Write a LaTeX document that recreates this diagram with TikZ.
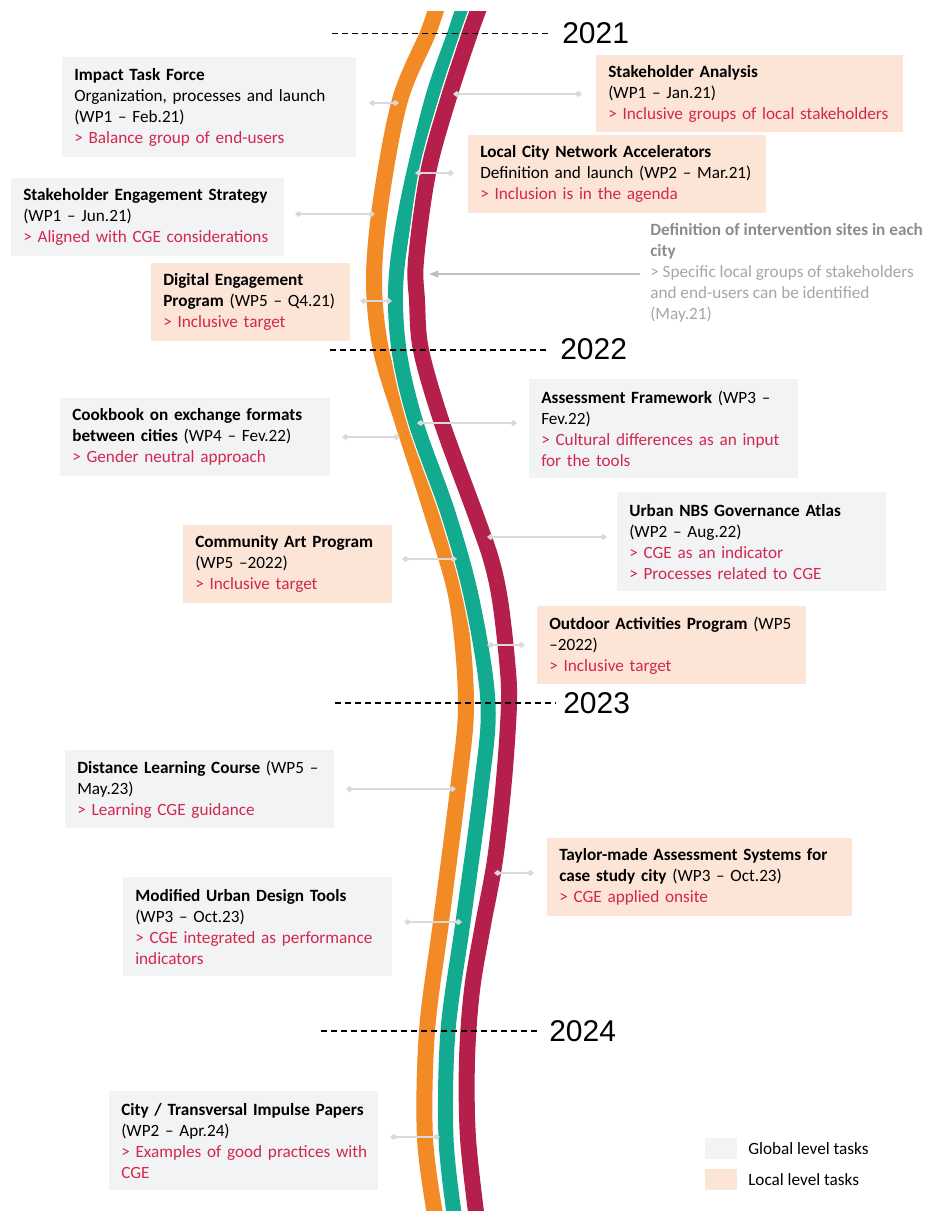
\documentclass[tikz,border=0pt]{standalone}
\usepackage{fontspec}
\setmainfont{Carlito}
\newfontfamily\yearfont{Liberation Sans}
\usetikzlibrary{arrows.meta}
\definecolor{orangeR}{HTML}{F28A25}
\definecolor{tealR}{HTML}{13AB8F}
\definecolor{maroonR}{HTML}{B41F4C}
\definecolor{boxgray}{HTML}{F2F3F5}
\definecolor{peach}{HTML}{FCE4D6}
\definecolor{cgered}{HTML}{D1284F}
\definecolor{conncol}{HTML}{D9D9D9}
\definecolor{arrowgray}{HTML}{BFBFBF}
\definecolor{greytxt}{HTML}{A6A6A6}
\definecolor{greyhead}{HTML}{8C8C8C}
\newcommand\taskfont{\fontsize{12.9}{15.75}\selectfont}
\newcommand\rd[1]{\textcolor{cgered}{#1}}
\newcommand\oneline[1]{\mbox{#1}}
\tikzset{
  taskbox/.style={anchor=north west, inner xsep=9pt, inner ysep=0pt, align=left, font=\taskfont, text=black},
  gbox/.style={taskbox, fill=boxgray},
  pbox/.style={taskbox, fill=peach},
  conn/.style={draw=conncol, line width=1.4pt, {Diamond[length=5.5pt,width=4.5pt]}-{Diamond[length=5.5pt,width=4.5pt]}},
  yearline/.style={draw=black, line width=1pt, dash pattern=on 4.5pt off 3pt},
  yearlbl/.style={anchor=west, inner sep=0pt, font=\yearfont\fontsize{22.5}{26}\selectfont},
  legsq/.style={anchor=north west, inner sep=0pt, minimum width=24pt, minimum height=15.75pt},
  legtxt/.style={anchor=west, inner sep=0pt, font=\taskfont}
}
\begin{document}
\begin{tikzpicture}[x=0.75pt,y=-0.75pt]
\useasboundingbox (0,0) rectangle (933,1211);

% ribbons
\begin{scope}
\clip (0,11) rectangle (933,1211);
\draw[orangeR, line width=12pt, preaction={draw=white, line width=14pt}]
  plot[smooth, tension=0.55] coordinates {(439,0) (428,33) (400,100) (381,200) (374,280) (381,350) (403,423) (432,513) (457,600) (466,703) (458,789) (441,922) (427,1031) (425,1138) (436,1220)};
\draw[tealR, line width=11.25pt, preaction={draw=white, line width=13pt}]
  plot[smooth, tension=0.55] coordinates {(466,0) (455,33) (432,100) (408,200) (396,280) (399,350) (416,423) (448,513) (472,600) (488,703) (481,789) (463,922) (448,1031) (446,1138) (455,1220)};
\draw[maroonR, line width=12pt, preaction={draw=white, line width=14pt}]
  plot[smooth, tension=0.55] coordinates {(482,0) (470,33) (448,100) (428,173) (416,260) (417,300) (421,350) (442,423) (475,513) (491,559) (500,600) (507,660) (509,703) (504,780) (495,860) (483,925) (472,990) (467,1060) (468,1138) (477,1220)};
\end{scope}

% year lines
\coordinate (d21a) at (332,33.5); \coordinate (d21b) at (548,33.5);
\coordinate (d22a) at (330,350); \coordinate (d22b) at (547,350);
\coordinate (d23a) at (335,703); \coordinate (d23b) at (556,703);
\coordinate (d24a) at (321,1031); \coordinate (d24b) at (540,1031);
\draw[yearline] (d21a) -- (d21b);
\draw[yearline] (d22a) -- (d22b);
\draw[yearline] (d23a) -- (d23b);
\draw[yearline] (d24a) -- (d24b);
\node[yearlbl] (y21) at (562,33.5) {2021};
\node[yearlbl] (y22) at (560,349) {2022};
\node[yearlbl] (y23) at (563,703) {2023};
\node[yearlbl] (y24) at (549,1031) {2024};

% task boxes
\node[gbox, text width=202.5pt, minimum height=75pt] (itf) at (62,57)
  {\oneline{\textbf{Impact Task Force}}\\\oneline{Organization, processes and launch}\\\oneline{(WP1 – Feb.21)}\\\oneline{\rd{> Balance group of end-users}}};
\node[gbox, text width=186.75pt, minimum height=58.5pt] (ses) at (11,178)
  {\oneline{\textbf{Stakeholder Engagement Strategy}}\\\oneline{(WP1 – Jun.21)}\\\oneline{\rd{> Aligned with CGE considerations}}};
\node[pbox, text width=131.25pt, minimum height=58.5pt] (dep) at (151,263)
  {\oneline{\textbf{Digital Engagement}}\\\oneline{\textbf{Program} (WP5 – Q4.21)}\\\oneline{\rd{> Inclusive target}}};
\node[pbox, text width=212.25pt, minimum height=57.75pt] (sa) at (596,55)
  {\oneline{\textbf{Stakeholder Analysis}}\\\oneline{(WP1 – Jan.21)}\\\oneline{\rd{> Inclusive groups of local stakeholders}}};
\node[pbox, text width=205.5pt, minimum height=58.5pt] (lcna) at (468,135)
  {\oneline{\textbf{Local City Network Accelerators}}\\\oneline{Definition and launch (WP2 – Mar.21)}\\\oneline{\rd{> Inclusion is in the agenda}}};
\node[anchor=west, inner sep=0pt, align=left, font=\taskfont] (dis) at (650,272.5)
  {\oneline{\textcolor{greyhead}{\textbf{Definition of intervention sites in each}}}\\\oneline{\textcolor{greyhead}{\textbf{city}}}\\\oneline{\textcolor{greytxt}{> Specific local groups of stakeholders}}\\\oneline{\textcolor{greytxt}{and end-users can be identified}}\\\oneline{\textcolor{greytxt}{(May.21)}}};
\node[gbox, text width=184.5pt, minimum height=58.5pt] (cook) at (60,398)
  {\oneline{\textbf{Cookbook on exchange formats}}\\\oneline{\textbf{between cities} (WP4 – Fev.22)}\\\oneline{\rd{> Gender neutral approach}}};
\node[gbox, text width=183.75pt, minimum height=74.25pt] (af) at (529,379)
  {\oneline{\textbf{Assessment Framework} (WP3 –}\\\oneline{Fev.22)}\\\oneline{\rd{> Cultural differences as an input}}\\\oneline{\rd{for the tools}}};
\node[gbox, text width=183.75pt, minimum height=74.25pt] (unbs) at (617,492)
  {\oneline{\textbf{Urban NBS Governance Atlas}}\\\oneline{(WP2 – Aug.22)}\\\oneline{\rd{> CGE as an indicator}}\\\oneline{\rd{> Processes related to CGE}}};
\node[pbox, text width=138.75pt, minimum height=58.5pt] (cap) at (183,525)
  {\oneline{\textbf{Community Art Program}}\\\oneline{(WP5 –2022)}\\\oneline{\rd{> Inclusive target}}};
\node[pbox, text width=183.75pt, minimum height=58.5pt] (oap) at (537,606)
  {\oneline{\textbf{Outdoor Activities Program} (WP5}\\\oneline{–2022)}\\\oneline{\rd{> Inclusive target}}};
\node[gbox, text width=183.75pt, minimum height=58.5pt] (dlc) at (65,750)
  {\oneline{\textbf{Distance Learning Course} (WP5 –}\\\oneline{May.23)}\\\oneline{\rd{> Learning CGE guidance}}};
\node[gbox, text width=183.75pt, minimum height=74.25pt] (mudt) at (123,877)
  {\oneline{\textbf{Modified Urban Design Tools}}\\\oneline{(WP3 – Oct.23)}\\\oneline{\rd{> CGE integrated as performance}}\\\oneline{\rd{indicators}}};
\node[pbox, text width=210.75pt, minimum height=58.5pt] (tmas) at (547,838)
  {\oneline{\textbf{Taylor-made Assessment Systems for}}\\\oneline{\textbf{case study city} (WP3 – Oct.23)}\\\oneline{\rd{> CGE applied onsite}}};
\node[gbox, text width=183.75pt, minimum height=74.25pt] (ctip) at (109,1091)
  {\oneline{\textbf{City / Transversal Impulse Papers}}\\\oneline{(WP2 – Apr.24)}\\\oneline{\rd{> Examples of good practices with}}\\\oneline{\rd{CGE}}};

% connectors
\coordinate (c1a) at (369,103);  \coordinate (c1b) at (399,103);
\coordinate (c2a) at (453,94);   \coordinate (c2b) at (582,94);
\coordinate (c3a) at (415,173);  \coordinate (c3b) at (454,173);
\coordinate (c4a) at (295,214);  \coordinate (c4b) at (375,214);
\coordinate (c5a) at (360,301);  \coordinate (c5b) at (392,301);
\coordinate (c6a) at (640,274);  \coordinate (c6b) at (429,274);
\coordinate (c7a) at (342,437);  \coordinate (c7b) at (400,437);
\coordinate (c8a) at (417,423);  \coordinate (c8b) at (517,423);
\coordinate (c9a) at (487,537);  \coordinate (c9b) at (607,537);
\coordinate (c10a) at (402,559); \coordinate (c10b) at (457,559);
\coordinate (c11a) at (487,645); \coordinate (c11b) at (525,645);
\coordinate (c12a) at (346,789); \coordinate (c12b) at (456,789);
\coordinate (c13a) at (404,922); \coordinate (c13b) at (462,922);
\coordinate (c14a) at (494,873); \coordinate (c14b) at (534,873);
\coordinate (c15a) at (390,1137); \coordinate (c15b) at (440,1137);
\draw[conn] (c1a) -- (c1b);
\draw[conn] (c2a) -- (c2b);
\draw[conn] (c3a) -- (c3b);
\draw[conn] (c4a) -- (c4b);
\draw[conn] (c5a) -- (c5b);
\draw[draw=arrowgray, line width=1.4pt, -{Triangle[length=7pt,width=5pt]}] (c6a) -- (c6b);
\draw[conn] (c7a) -- (c7b);
\draw[conn] (c8a) -- (c8b);
\draw[conn] (c9a) -- (c9b);
\draw[conn] (c10a) -- (c10b);
\draw[conn] (c11a) -- (c11b);
\draw[conn] (c12a) -- (c12b);
\draw[conn] (c13a) -- (c13b);
\draw[conn] (c14a) -- (c14b);
\draw[conn] (c15a) -- (c15b);

% legend
\node[legsq, fill=boxgray] (lg1) at (705,1138) {};
\node[legsq, fill=peach] (lg2) at (705,1169) {};
\node[legtxt] (lt1) at (748,1148.5) {Global level tasks};
\node[legtxt] (lt2) at (748,1179.5) {Local level tasks};
\end{tikzpicture}
\end{document}
